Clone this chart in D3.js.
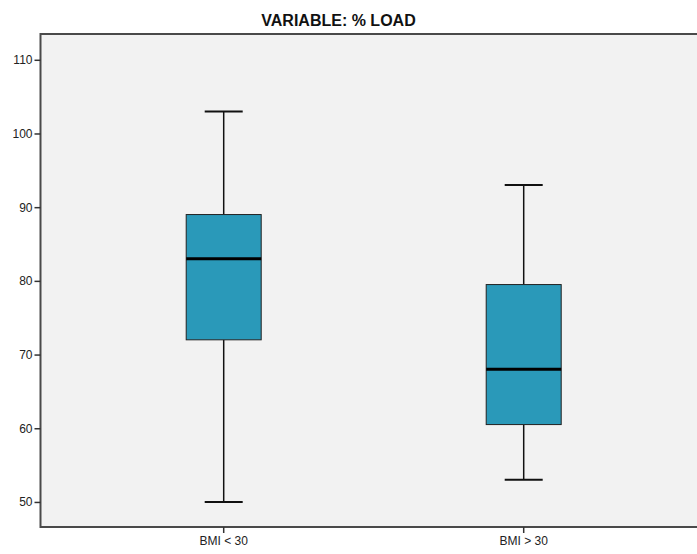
<!DOCTYPE html>
<html><head><meta charset="utf-8">
<script src="https://cdn.jsdelivr.net/npm/d3@7"></script>
<style>body{margin:0;background:#fff}svg{display:block}</style>
</head><body>
<script>
const title = "VARIABLE: % LOAD";
const categories = ["BMI < 30", "BMI > 30"];
const whiskerHigh = [103, 93];
const q3 = [89, 79.5];
const median = [83, 68];
const q1 = [72, 60.5];
const whiskerLow = [50, 53];
const yTicks = [50, 60, 70, 80, 90, 100, 110];

(function () {
const W = 697, H = 554;
const pLeft = 40.5, pTop = 34, pBottom = 527, pRight = 760;
const svg = d3.select("body").append("svg").attr("width", W).attr("height", H);

const y = d3.scaleLinear().domain([46.6, 113.5]).range([pBottom, pTop]);
const x = d3.scaleBand().domain(categories).range([73.7, 673.7]).paddingInner(0).paddingOuter(0);

svg.append("rect").attr("x", pLeft).attr("y", pTop).attr("width", pRight - pLeft).attr("height", pBottom - pTop)
  .attr("fill", "#f2f2f2").attr("stroke", "#4a4a4a").attr("stroke-width", 2);

const yAxis = svg.append("g").attr("transform", `translate(${pLeft},0)`)
  .call(d3.axisLeft(y).tickValues(yTicks).tickSize(6).tickPadding(2).tickFormat(d3.format("d")));
yAxis.select(".domain").remove();
yAxis.selectAll("line").attr("stroke", "#333").attr("stroke-width", 1.5);
yAxis.selectAll("text").attr("font-family", "Liberation Sans, Arial, sans-serif").attr("font-size", 12).attr("fill", "#222");

const xAxis = svg.append("g").attr("transform", `translate(0,${pBottom})`)
  .call(d3.axisBottom(x).tickSize(6).tickPadding(3));
xAxis.select(".domain").remove();
xAxis.selectAll("line").attr("stroke", "#333").attr("stroke-width", 1.5);
xAxis.selectAll("text").attr("font-family", "Liberation Sans, Arial, sans-serif").attr("font-size", 12).attr("fill", "#222");

const boxW = 75, capW = 38;
const g = svg.append("g");
categories.forEach((c, i) => {
  const cx = x(c) + x.bandwidth() / 2;
  g.append("line").attr("x1", cx).attr("x2", cx).attr("y1", y(whiskerHigh[i])).attr("y2", y(q3[i]))
    .attr("stroke", "#111").attr("stroke-width", 1.5);
  g.append("line").attr("x1", cx).attr("x2", cx).attr("y1", y(q1[i])).attr("y2", y(whiskerLow[i]))
    .attr("stroke", "#111").attr("stroke-width", 1.5);
  [whiskerHigh[i], whiskerLow[i]].forEach(v => {
    g.append("line").attr("x1", cx - capW / 2).attr("x2", cx + capW / 2).attr("y1", y(v)).attr("y2", y(v))
      .attr("stroke", "#111").attr("stroke-width", 2);
  });
  g.append("rect").attr("x", cx - boxW / 2).attr("y", y(q3[i])).attr("width", boxW).attr("height", y(q1[i]) - y(q3[i]))
    .attr("fill", "#2a99b9").attr("stroke", "#222").attr("stroke-width", 1);
  g.append("line").attr("x1", cx - boxW / 2).attr("x2", cx + boxW / 2).attr("y1", y(median[i])).attr("y2", y(median[i]))
    .attr("stroke", "#000").attr("stroke-width", 3);
});

svg.append("text").attr("x", 338.5).attr("y", 26).attr("text-anchor", "middle")
  .attr("font-family", "Liberation Sans Narrow, Arial Narrow, sans-serif").attr("font-weight", "bold")
  .attr("font-size", 16).attr("fill", "#111").text(title);
})();
</script>
</body></html>
